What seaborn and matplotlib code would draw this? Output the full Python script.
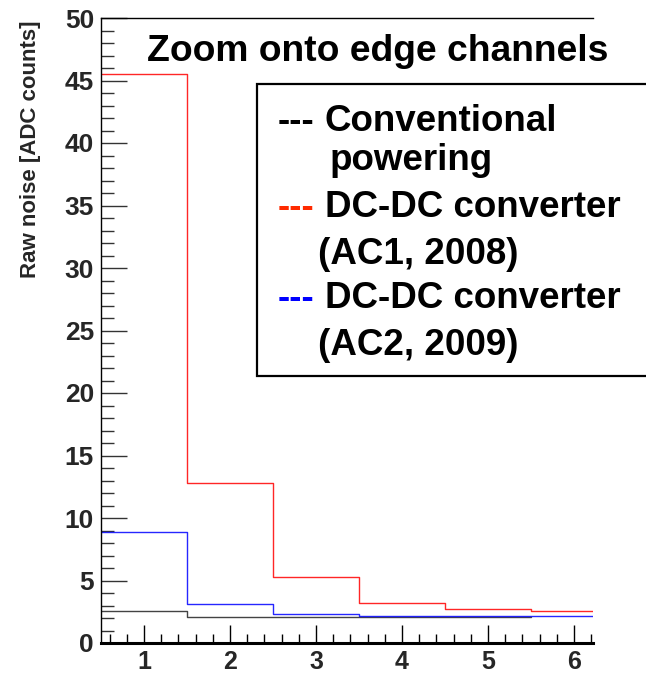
import numpy as np
import pandas as pd
import matplotlib
matplotlib.use("Agg")
import matplotlib.pyplot as plt
from matplotlib.patches import Rectangle
from matplotlib.ticker import MultipleLocator
import seaborn as sns

# Raw noise per edge channel (ADC counts)
channels_conv = [1, 2, 3, 4, 5]
noise_conv = [2.6, 2.1, 2.1, 2.1, 2.1]

channels_ac1 = [1, 2, 3, 4, 5, 6]
noise_ac1 = [45.5, 12.8, 5.3, 3.2, 2.75, 2.6]

channels_ac2 = [1, 2, 3, 4, 5, 6]
noise_ac2 = [8.9, 3.1, 2.3, 2.15, 2.15, 2.15]

x_ticks = [1, 2, 3, 4, 5, 6]
y_ticks = [0, 5, 10, 15, 20, 25, 30, 35, 40, 45, 50]

title = "Zoom onto edge channels"
y_title = "Raw noise [ADC counts]"
legend_lines = [
    ("---", "Conventional", "black"),
    (None, "powering", None),
    ("---", "DC-DC converter", "#ff2a00"),
    (None, "(AC1, 2008)", None),
    ("---", "DC-DC converter", "#0000ff"),
    (None, "(AC2, 2009)", None),
]

sns.set_theme(style="white")
plt.rcParams["font.family"] = ["Liberation Sans", "DejaVu Sans"]
plt.rcParams["font.weight"] = "bold"

W, H = 646, 673
fig = plt.figure(figsize=(W / 100, H / 100), dpi=100)
fig.patch.set_facecolor("white")
ax = fig.add_axes([101 / W, 30 / H, (593 - 101) / W, (643 - 18) / H])
ax.set_facecolor("white")

series = [
    (channels_conv, noise_conv, "#222222"),
    (channels_ac1, noise_ac1, "#ff0000"),
    (channels_ac2, noise_ac2, "#0000ff"),
]
for ch, vals, col in series:
    df = pd.DataFrame({"channel": ch, "noise": vals})
    sns.histplot(data=df, x="channel", weights="noise", discrete=True,
                 element="step", fill=False, color=col, linewidth=1.0,
                 alpha=0.85, ax=ax)

ax.set_xlim(0.5, 6.22)
ax.set_ylim(0, 50)
ax.set_xlabel("")
ax.set_xticks(x_ticks)
ax.set_yticks(y_ticks)
ax.set_xticklabels([str(v) for v in x_ticks])
ax.set_yticklabels([str(v) for v in y_ticks])
ax.xaxis.set_minor_locator(MultipleLocator(0.2))
ax.yaxis.set_minor_locator(MultipleLocator(1))

ax.tick_params(axis="x", which="major", direction="in", length=13, width=1,
               color="black", labelsize=18, pad=5, bottom=True, top=False)
ax.tick_params(axis="x", which="minor", direction="in", length=6.5, width=1,
               color="black", bottom=True, top=False)
ax.tick_params(axis="y", which="major", direction="in", length=19, width=1,
               color="#333333", labelsize=19, pad=5, left=True, right=False)
ax.tick_params(axis="y", which="minor", direction="in", length=9.5, width=1,
               color="#333333", left=True, right=False)
for lab in ax.get_xticklabels() + ax.get_yticklabels():
    lab.set_fontweight("bold")

ax.spines["right"].set_visible(False)
ax.spines["top"].set_linewidth(1.0)
ax.spines["left"].set_linewidth(1.0)
ax.spines["bottom"].set_linewidth(2.2)
for s in ("top", "left", "bottom"):
    ax.spines[s].set_color("black")

ax.set_ylabel(y_title, fontsize=16, fontweight="bold")
ylab = ax.yaxis.label
ylab.set_rotation_mode("default")
ylab.set_horizontalalignment("center")
ylab.set_verticalalignment("top")
ax.yaxis.set_label_coords((31 - 101) / 492, (643 - 20) / 625)

# Title inside the frame
fig.text(147 / W, 1 - 61 / H, title, fontsize=26.8, fontweight="bold",
         ha="left", va="baseline", color="black")

# Legend box with coloured dashes
box = Rectangle((257 / W, 1 - 376 / H), (700 - 257) / W, (376 - 84) / H,
                transform=fig.transFigure, fill=True, facecolor="white",
                edgecolor="black", linewidth=1.6, zorder=5, clip_on=False)
fig.add_artist(box)

baselines = [131, 170, 217, 264, 308, 355]
for (dash, txt, col), yb in zip(legend_lines, baselines):
    if dash is not None:
        fig.text(278 / W, 1 - yb / H, dash, fontsize=26.5, fontweight="bold",
                 color=col, ha="left", va="baseline", zorder=6)
        fig.text(325 / W, 1 - yb / H, txt, fontsize=26.5, fontweight="bold",
                 color="black", ha="left", va="baseline", zorder=6)
    else:
        x0 = 330 if txt == "powering" else 318
        fig.text(x0 / W, 1 - yb / H, txt, fontsize=26.5, fontweight="bold",
                 color="black", ha="left", va="baseline", zorder=6)

fig.savefig("out.png", dpi=100, facecolor="white")
